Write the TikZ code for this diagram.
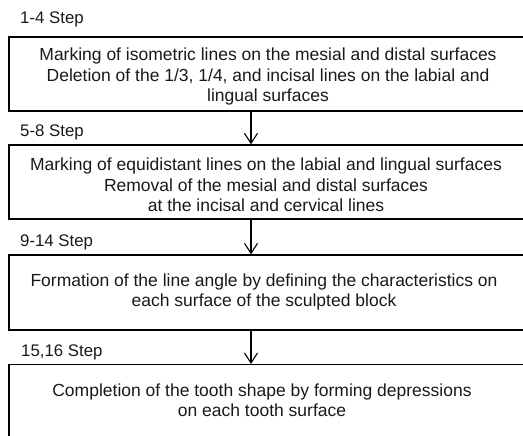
\documentclass[tikz,border=0pt]{standalone}
\usepackage{fontspec}
\setmainfont{Liberation Sans}
\usetikzlibrary{arrows.meta}
\begin{document}
\begin{tikzpicture}[x=1pt,y=1pt,
  box/.style={draw=black, line width=1.3pt, minimum width=516pt, inner sep=0pt},
  boxtext/.style={align=center, inner sep=0pt, font=\fontsize{17.5}{20.5}\selectfont, text=black!90},
  steplabel/.style={anchor=west, inner sep=0pt, font=\fontsize{16.8}{18}\selectfont, text=black!90},
  arr/.style={line width=1.1pt, -{Straight Barb[length=10pt,width=13pt,line width=1.1pt]}}]
\useasboundingbox (0,0) rectangle (523,436);
\begin{scope}
\clip (0,0) rectangle (523,436);
\coordinate (ax) at (251,0);
\node[steplabel] (l1) at (20,417) {1-4 Step};
\node[box, minimum height=74pt] (b1) at (267,362) {};
\node[boxtext] (t1) at (268,359.5) {Marking of isometric lines on the mesial and distal surfaces\\Deletion of the 1/3, 1/4, and incisal lines on the labial and\\lingual surfaces};
\node[steplabel] (l2) at (20,304) {5-8 Step};
\node[box, minimum height=74pt] (b2) at (267,254) {};
\node[boxtext] (t2) at (266,251) {Marking of equidistant lines on the labial and lingual surfaces\\Removal of the mesial and distal surfaces\\at the incisal and cervical lines};
\node[steplabel] (l3) at (20,194) {9-14 Step};
\node[box, minimum height=75pt] (b3) at (267,143.5) {};
\node[boxtext] (t3) at (264,144) {Formation of the line angle by defining the characteristics on\\each surface of the sculpted block};
\node[steplabel] (l4) at (21,84) {15,16 Step};
\node[box, minimum height=100pt, anchor=north] (b4) at (267,72) {};
\node[boxtext] (t4) at (262,36) {Completion of the tooth shape by forming depressions\\on each tooth surface};
\draw[arr] (b1.south -| ax) -- (b2.north -| ax);
\draw[arr] (b2.south -| ax) -- (b3.north -| ax);
\draw[arr] (b3.south -| ax) -- (b4.north -| ax);
\end{scope}
\end{tikzpicture}
\end{document}
